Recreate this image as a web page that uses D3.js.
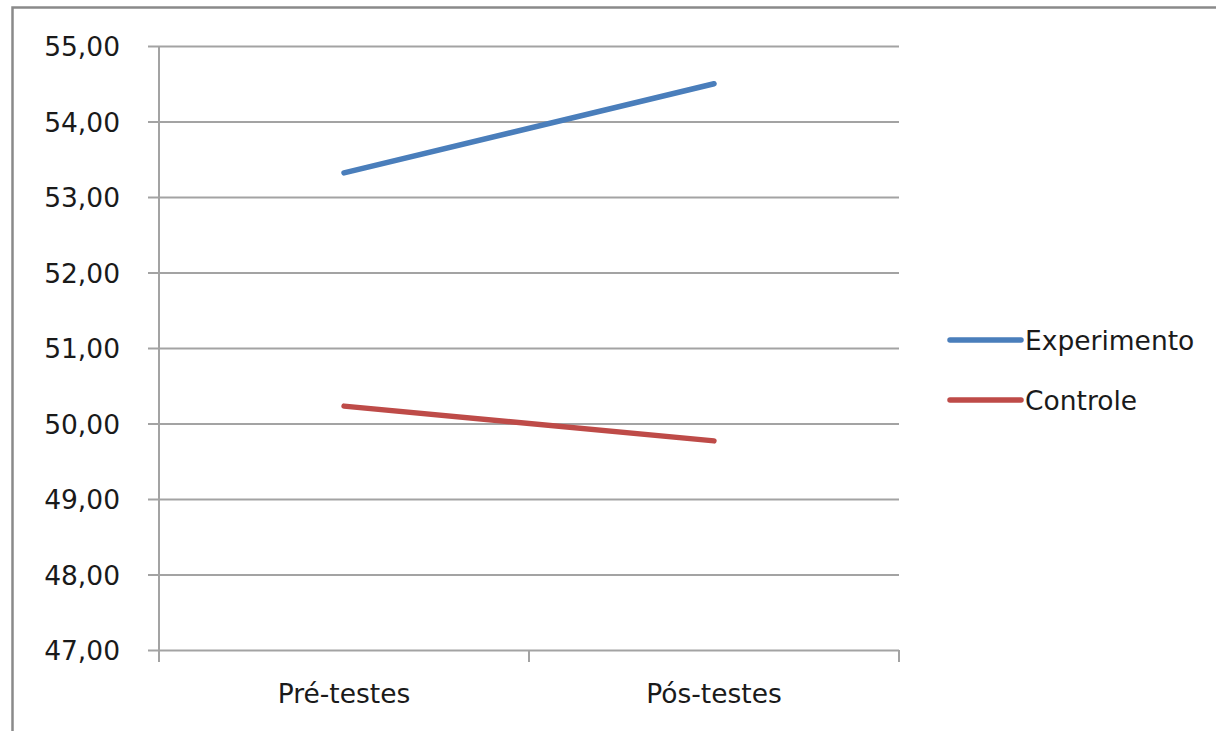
<!DOCTYPE html>
<html>
<head>
<meta charset="utf-8">
<script src="https://cdn.jsdelivr.net/npm/d3@7"></script>
<style>
  html, body { margin: 0; padding: 0; background: #fff; }
  svg { display: block; }
  text { font-family: "DejaVu Sans", Verdana, sans-serif; fill: #1a1a1a; }
</style>
</head>
<body>
<svg id="chart" width="1216" height="731"></svg>
<script>
// Mean scores per group, before and after
const categories = ["Pré-testes", "Pós-testes"];
const seriesNames = ["Experimento", "Controle"];
const experimento = [53.32, 54.50];
const controle = [50.23, 49.77];
const seriesColors = ["#4a7ebb", "#be4b48"];
const yTicks = [47, 48, 49, 50, 51, 52, 53, 54, 55];

const svg = d3.select("#chart");
const W = 1216, H = 731;
const plot = { left: 159, right: 899, top: 46, bottom: 650 };

// Outer frame (only left and top edges fall inside the view)
svg.append("path")
  .attr("d", `M12.5,${H} L12.5,7.5 L${W},7.5`)
  .attr("fill", "none")
  .attr("stroke", "#8a8a8a")
  .attr("stroke-width", 2.5);

const x = d3.scaleBand().domain(categories).range([plot.left, plot.right]).padding(0);
const y = d3.scaleLinear().domain([47, 55]).range([plot.bottom, plot.top]);

const ptBR = d3.formatLocale({ decimal: ",", thousands: ".", grouping: [3], currency: ["R$", ""] });
const fmt = ptBR.format(".2f");

const gridColor = "#a3a3a3";

// Y axis with gridlines
const yAxis = d3.axisLeft(y)
  .tickValues(yTicks)
  .tickFormat(fmt)
  .tickSizeInner(-(plot.right - plot.left))
  .tickSizeOuter(0)
  .tickPadding(0);

const gy = svg.append("g").attr("transform", `translate(${plot.left},0)`).call(yAxis);
gy.select(".domain").remove();
gy.selectAll(".tick line")
  .attr("x1", -11)
  .attr("stroke", gridColor)
  .attr("stroke-width", 2);
gy.selectAll(".tick text")
  .attr("x", -39)
  .attr("dy", "0.36em")
  .style("font-size", "26.5px")
  .style("font-family", "'DejaVu Sans', Verdana, sans-serif")
  .attr("fill", "#1a1a1a");

// Vertical axis line
svg.append("line")
  .attr("x1", plot.left).attr("x2", plot.left)
  .attr("y1", plot.top).attr("y2", plot.bottom + 12)
  .attr("stroke", gridColor).attr("stroke-width", 2);

// X axis: labels centred in each band, ticks on band edges
const xAxis = d3.axisBottom(x).tickSize(0).tickPadding(0);
const gx = svg.append("g").attr("transform", `translate(0,${plot.bottom})`).call(xAxis);
gx.select(".domain").remove();
gx.selectAll(".tick text")
  .attr("y", 53)
  .attr("dy", 0)
  .style("font-size", "26.5px")
  .style("font-family", "'DejaVu Sans', Verdana, sans-serif")
  .attr("fill", "#1a1a1a");

const bandEdges = categories.map(c => x(c)).concat([x(categories[categories.length - 1]) + x.bandwidth()]);
svg.append("g").selectAll("line")
  .data(bandEdges)
  .join("line")
  .attr("x1", d => d).attr("x2", d => d)
  .attr("y1", plot.bottom).attr("y2", plot.bottom + 12)
  .attr("stroke", gridColor).attr("stroke-width", 2);

// Series lines
const series = [experimento, controle];
const line = d3.line()
  .x((d, i) => x(categories[i]) + x.bandwidth() / 2)
  .y(d => y(d));

svg.append("g").selectAll("path")
  .data(series)
  .join("path")
  .attr("d", d => line(d))
  .attr("fill", "none")
  .attr("stroke", (d, i) => seriesColors[i])
  .attr("stroke-width", 5.5)
  .attr("stroke-linecap", "round");

// Legend
const legend = svg.append("g").attr("transform", "translate(950,340)");
const items = legend.selectAll("g")
  .data(seriesNames)
  .join("g")
  .attr("transform", (d, i) => `translate(0,${i * 60})`);
items.append("line")
  .attr("x1", 0).attr("x2", 71)
  .attr("y1", 0).attr("y2", 0)
  .attr("stroke", (d, i) => seriesColors[i])
  .attr("stroke-width", 5.5)
  .attr("stroke-linecap", "round");
items.append("text")
  .attr("x", 75)
  .attr("y", 0)
  .attr("dy", "0.36em")
  .style("font-size", "26.5px")
  .text(d => d);
</script>
</body>
</html>
